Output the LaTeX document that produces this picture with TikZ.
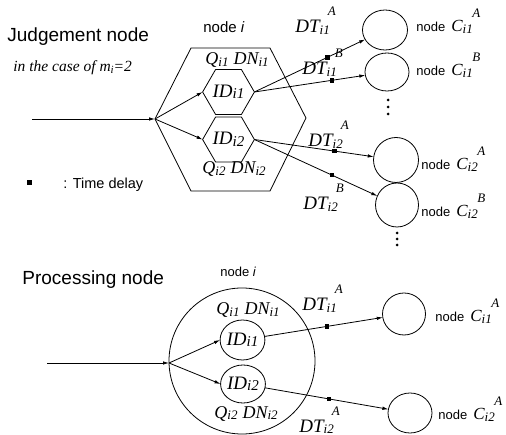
\documentclass[tikz,border=0pt]{standalone}
\usepackage{fontspec}
\setmainfont{Liberation Serif}
\setsansfont{Liberation Sans}
\usetikzlibrary{shapes.geometric,arrows.meta}
\newcommand{\sbs}[2]{\raisebox{-1.5pt}{\fontsize{#1}{#1}\selectfont #2}}
\newcommand{\sps}[2]{\raisebox{#1}{\fontsize{13}{13}\selectfont #2}}
\newcommand{\DT}[2]{{\fontsize{19}{19}\selectfont DT\sbs{13}{#1}\kern-2pt\sps{17pt}{#2}}}
\newcommand{\Cn}[2]{{\rmfamily\itshape\fontsize{17}{17}\selectfont C\sbs{13}{#1}\kern-0.5pt\sps{14pt}{#2}}}
\newcommand{\QD}[1]{{\fontsize{18}{18}\selectfont Q\sbs{13}{#1}\hspace{5pt}DN\sbs{13}{#1}}}
\newcommand{\ID}[1]{{\itshape\fontsize{19}{19}\selectfont ID\sbs{15}{#1}}}
\begin{document}
\begin{tikzpicture}[x=1pt,y=-1pt,line width=0.8pt,
    arr/.style={-{Latex[length=6pt,width=3.5pt]}},
    hexa/.style={draw,regular polygon,regular polygon sides=6,minimum size=46pt,inner sep=0pt,outer sep=0pt},
    oval/.style={draw,ellipse,inner sep=0pt,outer sep=0pt},
    delay/.style={fill,rectangle,minimum size=4.5pt,inner sep=0pt},
    dot/.style={fill,circle,minimum size=3pt,inner sep=0pt},
    title/.style={anchor=base west,inner sep=0pt,font=\sffamily\fontsize{19}{19}\selectfont},
    lbl/.style={anchor=base west,inner sep=0pt,font=\itshape},
    nlbl/.style={anchor=base west,inner sep=0pt,font=\sffamily\fontsize{13}{13}\selectfont}]

    \useasboundingbox (0,0) rectangle (506,435);

    % judgement node
    \coordinate (jin) at (32,119);
    \coordinate (jfork) at (155,119);
    \coordinate (jh1) at (191,48);
    \coordinate (jh2) at (270,48);
    \coordinate (jh3) at (306,118);
    \coordinate (jh4) at (270,191);
    \coordinate (jh5) at (191,191);

    \draw (jfork) -- (jh1) -- (jh2) -- (jh3) -- (jh4) -- (jh5) -- cycle;

    \node[title] (jtitle) at (7,42) {Judgement node};
    \node[lbl,font=\itshape\fontsize{15.5}{16}\selectfont] (jcase) at (13,72) {in the case of m\sbs{11}{i}=2};
    \node[nlbl,font=\sffamily\fontsize{15}{15}\selectfont] (jname) at (203,33) {node \textit{i}};
    \node[delay,minimum size=5pt] (key) at (29,183) {};
    \node[nlbl,font=\sffamily\fontsize{14.5}{15}\selectfont] (keytext) at (63,189) {: Time delay};

    \node[hexa] (jid1) at (228.5,92) {\ID{i1}};
    \node[hexa] (jid2) at (228.5,139.5) {\ID{i2}};
    \node[lbl] (jq1) at (205,65) {\QD{i1}};
    \node[lbl] (jq2) at (202,174) {\QD{i2}};

    \node[oval,minimum width=45pt,minimum height=40pt] (jc1a) at (385,30) {};
    \node[oval,minimum width=44pt,minimum height=38pt] (jc1b) at (387,72) {};
    \node[oval,minimum width=45pt,minimum height=45pt] (jc2a) at (396,160) {};
    \node[oval,minimum width=43pt,minimum height=44pt] (jc2b) at (397,205) {};

    \draw[arr] (jin) -- (jfork);
    \draw[arr] (jfork) -- (jid1.west);
    \draw[arr] (jfork) -- (jid2.west);
    \draw[arr] (jid1.east) -- node[delay,pos=0.66] (d1a) {} (jc1a);
    \draw[arr] (jid1.east) -- node[delay,pos=0.70] (d1b) {} (jc1b);
    \draw[arr] (jid2.east) -- node[delay,pos=0.67] (d2a) {} (jc2a);
    \draw[arr] (jid2.east) -- node[delay,pos=0.63] (d2b) {} (jc2b);

    \node[lbl] (jdt1a) at (295,33) {\DT{i1}{A}};
    \node[lbl] (jdt1b) at (302,75) {\DT{i1}{B}};
    \node[lbl] (jdt2a) at (308,147) {\DT{i2}{A}};
    \node[lbl] (jdt2b) at (303,210) {\DT{i2}{B}};

    \node[nlbl] (jn1a) at (416,32) {node\hspace{6pt}\Cn{i1}{A}};
    \node[nlbl] (jn1b) at (416,76) {node\hspace{6pt}\Cn{i1}{B}};
    \node[nlbl] (jn2a) at (421,170) {node\hspace{6pt}\Cn{i2}{A}};
    \node[nlbl] (jn2b) at (421,217) {node\hspace{6pt}\Cn{i2}{B}};

    \foreach \y in {100,107,114} \node[dot] (jv\y) at (388,\y) {};
    \foreach \y in {233,239,245} \node[dot] (jw\y) at (397,\y) {};

    % processing node
    \coordinate (pin) at (47,363);
    \coordinate (pfork) at (169,363);
    \coordinate (pmid) at (242,361);

    \draw (pmid) circle (73);

    \node[title] (ptitle) at (22,285) {Processing node};
    \node[nlbl] (pname) at (220,277) {node \textit{i}};

    \node[oval,minimum width=43pt,minimum height=40pt] (pid1) at (242.5,340) {\ID{i1}};
    \node[oval,minimum width=42pt,minimum height=38pt] (pid2) at (243,384) {\ID{i2}};
    \node[lbl] (pq1) at (216,315) {\QD{i1}};
    \node[lbl] (pq2) at (214,418) {\QD{i2}};

    \node[oval,minimum width=43pt,minimum height=42pt] (pc1a) at (404,314) {};
    \node[oval,minimum width=44pt,minimum height=40pt] (pc2a) at (410,413) {};

    \draw[arr] (pin) -- (pfork);
    \draw[arr] (pfork) -- (pid1.west);
    \draw[arr] (pfork) -- (pid2.west);
    \draw[arr] (pid1) -- node[delay,pos=0.53] (e1a) {} (pc1a);
    \draw[arr] (pid2) -- node[delay,pos=0.52] (e2a) {} (pc2a);

    \node[lbl] (pdt1a) at (302,311) {\DT{i1}{A}};
    \node[lbl] (pdt2a) at (299,432) {\DT{i2}{A}};

    \node[nlbl] (pn1a) at (435,322) {node\hspace{6pt}\Cn{i1}{A}};
    \node[nlbl] (pn2a) at (438,420) {node\hspace{6pt}\Cn{i2}{A}};

\end{tikzpicture}
\end{document}
